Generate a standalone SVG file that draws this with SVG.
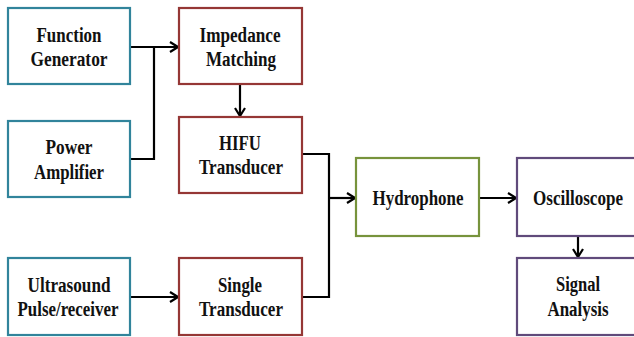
<svg xmlns="http://www.w3.org/2000/svg" width="634" height="337" viewBox="0 0 634 337">
  <style>
    .box { fill: #ffffff; stroke-width: 2.2; }
    .teal { stroke: #31849b; }
    .red { stroke: #953735; }
    .green { stroke: #77933c; }
    .purple { stroke: #604a7b; }
    text { font-family: "Liberation Serif", "Times New Roman", serif; font-weight: bold; font-size: 20px; fill: #111111; text-anchor: middle; }
    .wire { fill: none; stroke: #000000; stroke-width: 2.2; }
  </style>
  <defs>
    <marker id="arrow" viewBox="0 0 10 12" refX="9" refY="6" markerWidth="10" markerHeight="12" markerUnits="userSpaceOnUse" orient="auto">
      <path d="M1,1 L9,6 L1,11" fill="none" stroke="#000000" stroke-width="2.2"/>
    </marker>
  </defs>

  <g id="connectors">
    <path class="wire" d="M130,47 H178" marker-end="url(#arrow)"/>
    <path class="wire" d="M130,159 H154 V47"/>
    <path class="wire" d="M240,84 V116" marker-end="url(#arrow)"/>
    <path class="wire" d="M302,154 H329 V297 H302"/>
    <path class="wire" d="M329,198 H355" marker-end="url(#arrow)"/>
    <path class="wire" d="M130,297 H178" marker-end="url(#arrow)"/>
    <path class="wire" d="M479,198 H516" marker-end="url(#arrow)"/>
    <path class="wire" d="M578,236 V257" marker-end="url(#arrow)"/>
  </g>

  <g id="function-generator">
    <rect class="box teal" x="8" y="8" width="122" height="76"/>
    <text x="69" y="42" textLength="65" lengthAdjust="spacingAndGlyphs">Function</text>
    <text x="69" y="66" textLength="77" lengthAdjust="spacingAndGlyphs">Generator</text>
  </g>

  <g id="power-amplifier">
    <rect class="box teal" x="8" y="121" width="122" height="76"/>
    <text x="69" y="154" textLength="47" lengthAdjust="spacingAndGlyphs">Power</text>
    <text x="69" y="179" textLength="70" lengthAdjust="spacingAndGlyphs">Amplifier</text>
  </g>

  <g id="ultrasound-pulser">
    <rect class="box teal" x="8" y="258" width="122" height="77"/>
    <text x="69" y="292" textLength="83" lengthAdjust="spacingAndGlyphs">Ultrasound</text>
    <text x="68" y="316" textLength="101" lengthAdjust="spacingAndGlyphs">Pulse/receiver</text>
  </g>

  <g id="impedance-matching">
    <rect class="box red" x="179" y="8" width="123" height="76"/>
    <text x="240" y="42" textLength="81" lengthAdjust="spacingAndGlyphs">Impedance</text>
    <text x="241" y="66" textLength="70" lengthAdjust="spacingAndGlyphs">Matching</text>
  </g>

  <g id="hifu-transducer">
    <rect class="box red" x="179" y="117" width="123" height="76"/>
    <text x="240" y="150" textLength="42" lengthAdjust="spacingAndGlyphs">HIFU</text>
    <text x="241" y="174" textLength="84" lengthAdjust="spacingAndGlyphs">Transducer</text>
  </g>

  <g id="single-transducer">
    <rect class="box red" x="179" y="258" width="123" height="77"/>
    <text x="240" y="292" textLength="44" lengthAdjust="spacingAndGlyphs">Single</text>
    <text x="241" y="316" textLength="84" lengthAdjust="spacingAndGlyphs">Transducer</text>
  </g>

  <g id="hydrophone">
    <rect class="box green" x="356" y="158" width="123" height="78"/>
    <text x="418" y="205" textLength="91" lengthAdjust="spacingAndGlyphs">Hydrophone</text>
  </g>

  <g id="oscilloscope">
    <rect class="box purple" x="517" y="158" width="123" height="78"/>
    <text x="578" y="205" textLength="90" lengthAdjust="spacingAndGlyphs">Oscilloscope</text>
  </g>

  <g id="signal-analysis">
    <rect class="box purple" x="517" y="258" width="123" height="77"/>
    <text x="578" y="291" textLength="44" lengthAdjust="spacingAndGlyphs">Signal</text>
    <text x="578" y="316" textLength="61" lengthAdjust="spacingAndGlyphs">Analysis</text>
  </g>
</svg>
